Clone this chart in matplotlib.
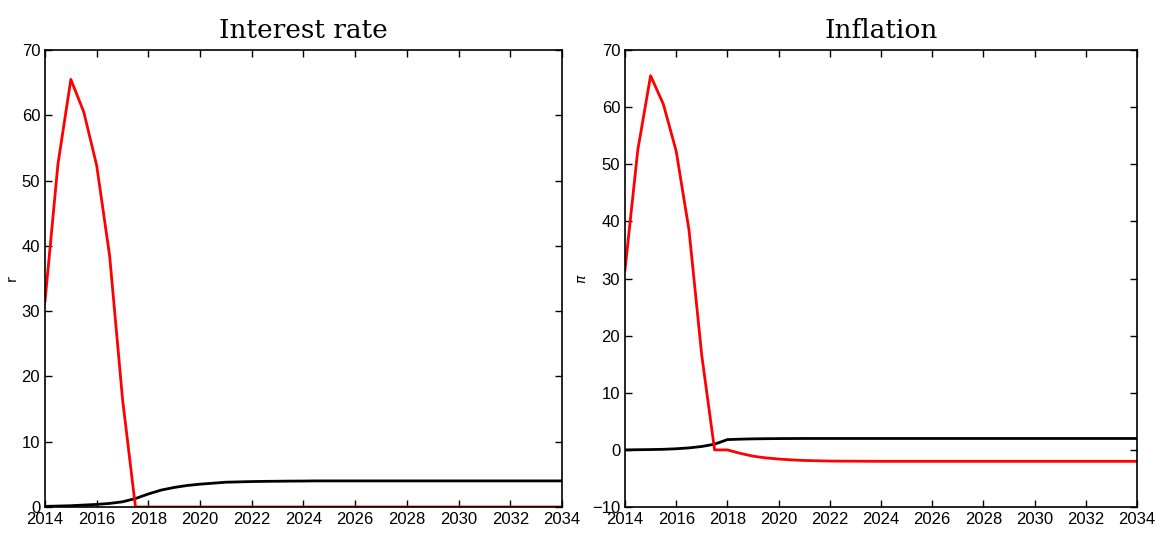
import numpy as np
import matplotlib
matplotlib.use("Agg")
import matplotlib.pyplot as plt

# half-yearly dates 2014 .. 2034
years = np.arange(2014, 2034.01, 0.5)

r_red = [31.5, 52.5, 65.5, 60.5, 52.3, 38.5, 16.5, 0.0] + [0.0] * 33
r_black = [0.1, 0.15, 0.2, 0.3, 0.4, 0.55, 0.8, 1.3, 2.0, 2.6, 3.0, 3.3, 3.5, 3.65,
           3.8, 3.85, 3.9, 3.93, 3.95, 3.97, 3.98] + [4.0] * 20

pi_red = [31.5, 52.5, 65.5, 60.5, 52.3, 38.5, 16.5, 0.0, 0.0, -0.6, -1.1, -1.4, -1.6,
          -1.75, -1.85, -1.9, -1.95, -1.97, -1.98, -1.99] + [-2.0] * 21
pi_black = [0.0, 0.03, 0.06, 0.1, 0.2, 0.35, 0.6, 1.0, 1.8, 1.88, 1.93, 1.96, 1.98,
            1.99] + [2.0] * 27

fig = plt.figure(figsize=(11.63, 5.35), dpi=100)
ax1 = fig.add_axes([0.0387, 0.0523, 0.4445, 0.8542])
ax2 = fig.add_axes([0.5374, 0.0523, 0.4402, 0.8542])

panels = [
    (ax1, r_black, r_red, "Interest rate", "r", (0, 70)),
    (ax2, pi_black, pi_red, "Inflation", r"$\pi$", (-10, 70)),
]

for ax, blk, red, title, ylab, ylim in panels:
    ax.plot(years, blk, color="black", lw=2)
    ax.plot(years, red, color="red", lw=2)
    ax.set_xlim(2014, 2034)
    ax.set_ylim(*ylim)
    ax.set_xticks(np.arange(2014, 2035, 2))
    ax.set_yticks(np.arange(ylim[0], 71, 10))
    ax.tick_params(direction="in", top=True, right=True, labelsize=12, length=5, width=1)
    for lab in ax.get_xticklabels() + ax.get_yticklabels():
        lab.set_family("Liberation Sans")
    for sp in ax.spines.values():
        sp.set_linewidth(1.2)
    ax.set_title(title, fontsize=19, family="DejaVu Serif", pad=9)
    ax.set_ylabel(ylab, fontsize=10, labelpad=2)

fig.savefig("out.png", dpi=100)
